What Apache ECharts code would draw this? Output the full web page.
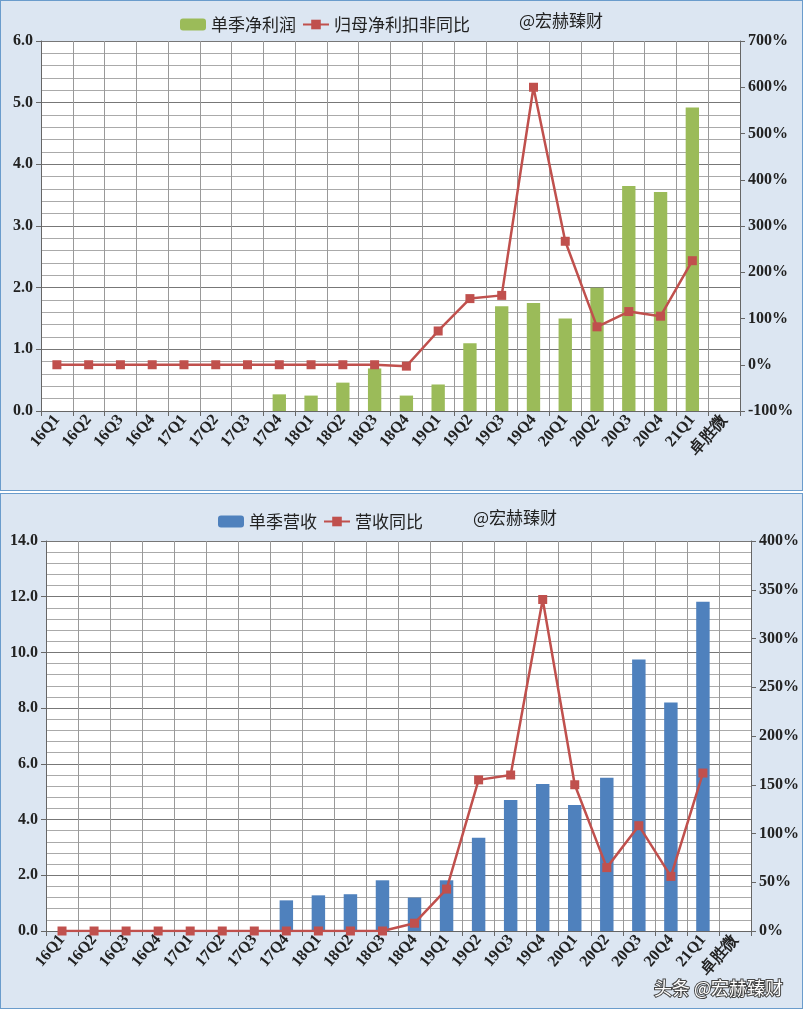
<!DOCTYPE html>
<html><head><meta charset="utf-8">
<script src="https://cdn.jsdelivr.net/npm/echarts@6/dist/echarts.min.js"></script>
<style>
body{margin:0;background:#fff;}
#c1{position:absolute;left:0;top:0;width:801px;height:489px;background:#dce6f2;border:1px solid #6a9ccc;}
#c2{position:absolute;left:0;top:493px;width:801px;height:514px;background:#dce6f2;border:1px solid #6a9ccc;}
</style></head><body>
<div id="c1"></div><div id="c2"></div>
<script>
const categories=['16Q1','16Q2','16Q3','16Q4','17Q1','17Q2','17Q3','17Q4','18Q1','18Q2','18Q3','18Q4','19Q1','19Q2','19Q3','19Q4','20Q1','20Q2','20Q3','20Q4','21Q1','卓胜微'];
const profit=[null,null,null,null,null,null,null,0.27,0.25,0.46,0.69,0.25,0.43,1.1,1.7,1.75,1.5,2.0,3.65,3.55,4.92,null];
const profitYoY=[0,0,0,0,0,0,0,0,0,0,0,-3,73,143,150,600,267,82,115,105,225,null];
const revenue=[null,null,null,null,null,null,null,1.1,1.28,1.32,1.82,1.2,1.82,3.35,4.7,5.28,4.52,5.5,9.75,8.2,11.82,null];
const revenueYoY=[0,0,0,0,0,0,0,0,0,0,0,8,43,155,160,340,150,65,108,56,162,null];
const serif='Liberation Serif';
function opt(cfg){
  return {
    animation:false,
    legend:{top:cfg.legTop,left:cfg.legLeft,itemWidth:26,itemHeight:12,itemGap:6,
      textStyle:{fontSize:17,color:'#222',fontFamily:'Noto Sans CJK SC'},data:[cfg.barName,cfg.lineName]},
    graphic:cfg.graphic,
    grid:Object.assign({show:true,backgroundColor:'#fff',borderWidth:0},cfg.grid),
    xAxis:{type:'category',data:categories,boundaryGap:true,
      axisLine:{lineStyle:{color:'#666'}},axisTick:{show:true,lineStyle:{color:'#666'}},
      splitLine:{show:true,interval:0,lineStyle:{color:'#999'}},
      axisLabel:{interval:0,rotate:50,fontFamily:serif,fontSize:16,fontWeight:'bold',color:'#222',margin:6}},
    yAxis:[
      {type:'value',min:0,max:cfg.lmax,interval:cfg.lint,
       axisLine:{show:true,lineStyle:{color:'#666'}},axisTick:{show:true},
       splitLine:{lineStyle:{color:'#777'}},
       minorTick:{show:false,splitNumber:5},minorSplitLine:{show:true,lineStyle:{color:'#aaa'}},
       axisLabel:{formatter:v=>v.toFixed(1),fontFamily:serif,fontSize:16,fontWeight:'bold',color:'#222'}},
      {type:'value',min:cfg.rmin,max:cfg.rmax,interval:cfg.rint,
       axisLine:{show:true,lineStyle:{color:'#666'}},axisTick:{show:true},splitLine:{show:false},
       axisLabel:{formatter:'{value}%',fontFamily:serif,fontSize:16,fontWeight:'bold',color:'#222'}}
    ],
    series:[
      {name:cfg.barName,type:'bar',data:cfg.bar,barWidth:'42%',itemStyle:{color:cfg.barColor}},
      {name:cfg.lineName,type:'line',yAxisIndex:1,data:cfg.line,symbol:'rect',symbolSize:9,
       lineStyle:{color:'#c0504d',width:2.5},itemStyle:{color:'#c0504d'}}
    ]
  };
}
const c1=echarts.init(document.getElementById('c1'));
c1.setOption(opt({barName:'单季净利润',lineName:'归母净利扣非同比',legTop:10,legLeft:174,
  grid:{left:40,right:62,top:40,bottom:79},lmax:6,lint:1,rmin:-100,rmax:700,rint:100,
  bar:profit,line:profitYoY,barColor:'#9bbb59',
  graphic:[{type:'text',left:518,top:11,style:{text:'@宏赫臻财',fontSize:17,fill:'#222',fontFamily:'Noto Sans CJK SC'}}]}));
const c2=echarts.init(document.getElementById('c2'));
c2.setOption(opt({barName:'单季营收',lineName:'营收同比',legTop:14,legLeft:212,
  grid:{left:45,right:47,top:47,bottom:77},lmax:14,lint:2,rmin:0,rmax:400,rint:50,
  bar:revenue,line:revenueYoY,barColor:'#4f81bd',
  graphic:[{type:'text',left:472,top:15,style:{text:'@宏赫臻财',fontSize:17,fill:'#222',fontFamily:'Noto Sans CJK SC'}},
    {type:'text',right:18,bottom:10,style:{text:'头条 @宏赫臻财',fontSize:18,fill:'#fff',stroke:'#444',lineWidth:2,fontFamily:'Noto Sans CJK SC'}}]}));
</script></body></html>
